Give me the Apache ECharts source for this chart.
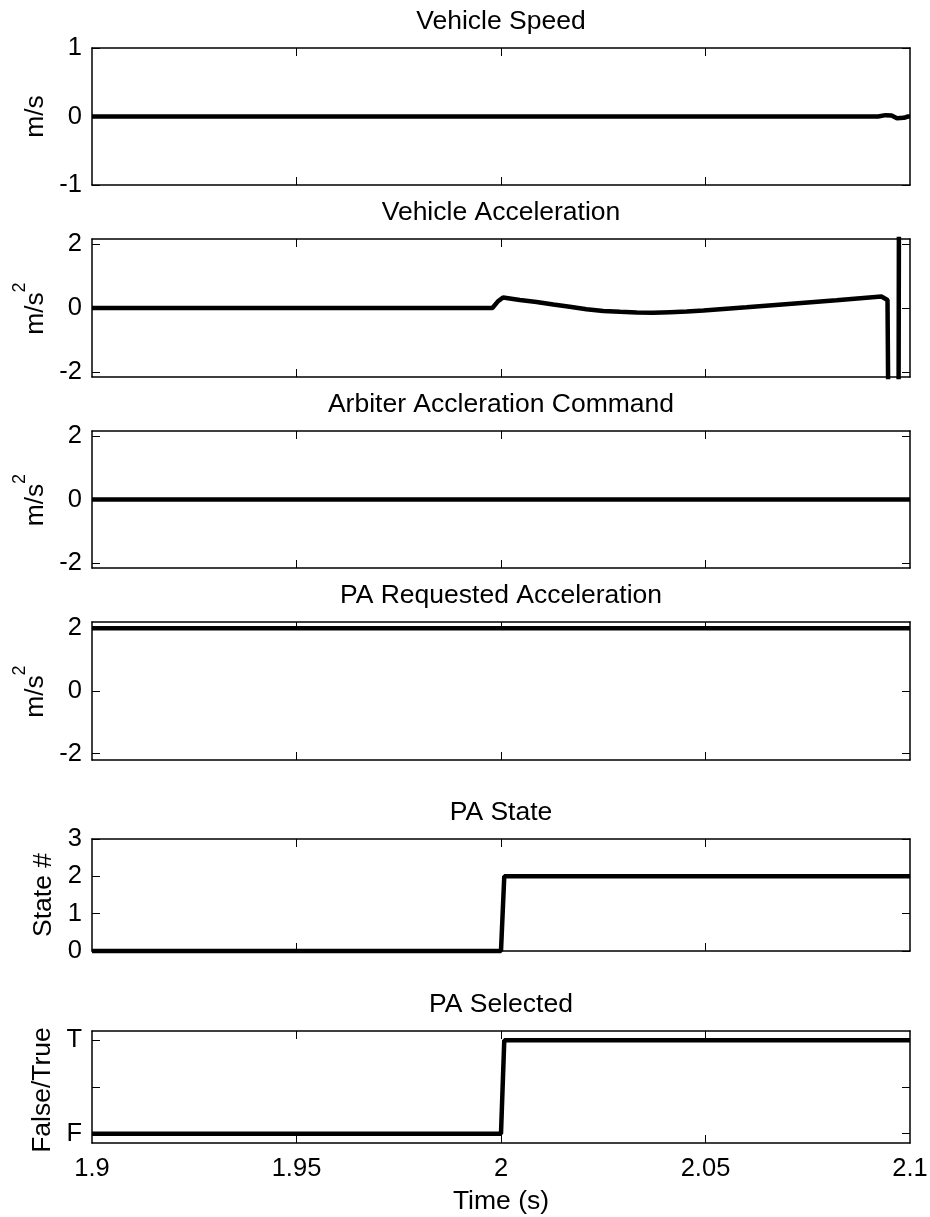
<!DOCTYPE html>
<html>
<head>
<meta charset="utf-8">
<script src="https://cdn.jsdelivr.net/npm/echarts@6/dist/echarts.min.js"></script>
<style>
html,body{margin:0;padding:0;background:#fff;}
#chart{width:930px;height:1217px;}
</style>
</head>
<body>
<div id="chart"></div>
<script>
// time axis
var timeMin = 1.9;
var timeMax = 2.1;
var timeTicks = [1.95, 2, 2.05];
var timeLabels = [1.9, 1.95, 2, 2.05, 2.1];

// panel titles / y labels
var titles = ['Vehicle Speed', 'Vehicle Acceleration', 'Arbiter Accleration Command', 'PA Requested Acceleration', 'PA State', 'PA Selected'];
var yUnits = ['m/s', 'm/s', 'm/s', 'm/s', 'State #', 'False/True'];
var yUnitSup = ['', '2', '2', '2', '', ''];

// y ranges and ticks
var yMins = [-1, -2.15, -2.15, -2.2, 0, -0.1];
var yMaxs = [1, 2.15, 2.15, 2.2, 3, 1.1];
var yTicks = [[-1, 0, 1], [-2, 0, 2], [-2, 0, 2], [-2, 0, 2], [0, 1, 2, 3], [0, 0.5, 1]];
var yLabels = [[-1, 0, 1], [-2, 0, 2], [-2, 0, 2], [-2, 0, 2], [0, 1, 2, 3], [0, 1]];

// series values
var speedT = [1.9, 2.0922, 2.094, 2.0955, 2.0968, 2.0985, 2.0995, 2.1];
var speedV = [0, 0, 0.02, 0.015, -0.025, -0.02, 0, 0];

var accelT = [1.9, 1.9979, 1.9992, 2.0005, 2.0046, 2.0087, 2.0128, 2.0168, 2.0209, 2.025, 2.0291, 2.0332, 2.0372, 2.0413, 2.0454, 2.0495, 2.06, 2.0711, 2.082, 2.093, 2.0945, 2.0951, 2.0971, 2.0974];
var accelV = [0, 0, 0.2, 0.33, 0.25, 0.19, 0.11, 0.04, -0.04, -0.09, -0.12, -0.14, -0.15, -0.13, -0.11, -0.08, 0.02, 0.13, 0.24, 0.36, 0.25, -10, -10, 10];

var arbT = [1.9, 2.1];
var arbV = [0, 0];

var reqT = [1.9, 2.1];
var reqV = [2, 2];

var stateT = [1.9, 2.0, 2.0008, 2.1];
var stateV = [0, 0, 2, 2];

var selT = [1.9, 2.0, 2.0008, 2.1];
var selV = [0, 0, 1, 1];

var seriesT = [speedT, accelT, arbT, reqT, stateT, selT];
var seriesV = [speedV, accelV, arbV, reqV, stateV, selV];

var gridTops = [48, 239, 431, 622, 839, 1031];
var gridHeights = [137, 138, 137, 138, 112, 112];
var unitX = [49, 49, 49, 49, 57, 56];
var unitShift = [0, 5.5, 5.5, 5.5, 0, 3];

var FONT = '"Liberation Sans", Arial, sans-serif';

function fmtNum(v) {
	return String(+(+v).toFixed(2));
}

var dom = document.getElementById('chart');
var myChart = echarts.init(dom, null, {renderer: 'canvas'});

var grid = [], xAxis = [], yAxis = [], series = [], title = [], graphic = [];
for (var i = 0; i < 6; i++) {
	var last = (i == 5);
	var midY = gridTops[i] + gridHeights[i] / 2;
	grid.push({left: 92, right: 20, top: gridTops[i], height: gridHeights[i], containLabel: false, outerBoundsMode: 'none'});

	title.push({
		text: titles[i], left: 501, top: gridTops[i] - 40, textAlign: 'center', padding: 0,
		textStyle: {fontSize: 26.5, fontWeight: 'normal', color: '#000', fontFamily: FONT}
	});

	// y label (rotated), with optional superscript
	graphic.push({
		type: 'text', x: unitX[i], y: midY + unitShift[i], rotation: Math.PI / 2, silent: true,
		style: {text: yUnits[i], fontSize: 26.5, fontFamily: FONT, fill: '#000', align: 'center', verticalAlign: 'bottom'}
	});
	if (yUnitSup[i]) {
		graphic.push({
			type: 'text', x: 29, y: midY - 20.5, rotation: Math.PI / 2, silent: true,
			style: {text: yUnitSup[i], fontSize: 18, fontFamily: FONT, fill: '#000', align: 'center', verticalAlign: 'bottom'}
		});
	}

	// bottom x axis
	xAxis.push({
		type: 'value', gridIndex: i, min: timeMin, max: timeMax, position: 'bottom',
		axisLine: {show: true, onZero: false, lineStyle: {color: '#000', width: 1.5}},
		axisTick: {show: true, inside: true, length: 8, lineStyle: {color: '#000', width: 1}, customValues: timeTicks},
		axisLabel: {show: last, margin: 13, fontSize: 25.5, color: '#000', fontFamily: FONT, customValues: timeLabels, formatter: fmtNum},
		splitLine: {show: false},
		name: last ? 'Time (s)' : '', nameLocation: 'middle', nameGap: 45,
		nameTextStyle: {fontSize: 26.5, color: '#000', fontFamily: FONT}
	});
	// top x axis (box + ticks)
	xAxis.push({
		type: 'value', gridIndex: i, min: timeMin, max: timeMax, position: 'top',
		axisLine: {show: true, onZero: false, lineStyle: {color: '#000', width: 1.5}},
		axisTick: {show: true, inside: true, length: 8, lineStyle: {color: '#000', width: 1}, customValues: timeTicks},
		axisLabel: {show: false},
		splitLine: {show: false}
	});

	var labFmt = fmtNum;
	if (i == 5) {
		labFmt = function (v) { return v == 0 ? 'F' : (v == 1 ? 'T' : ''); };
	}
	yAxis.push({
		type: 'value', gridIndex: i, min: yMins[i], max: yMaxs[i], position: 'left',
		axisLine: {show: true, onZero: false, lineStyle: {color: '#000', width: 1.5}},
		axisTick: {show: true, inside: true, length: 8, lineStyle: {color: '#000', width: 1}, customValues: yTicks[i]},
		axisLabel: {show: true, margin: 10, fontSize: 25.5, color: '#000', fontFamily: FONT, customValues: yLabels[i], formatter: labFmt},
		splitLine: {show: false}
	});
	yAxis.push({
		type: 'value', gridIndex: i, min: yMins[i], max: yMaxs[i], position: 'right',
		axisLine: {show: true, onZero: false, lineStyle: {color: '#000', width: 1.5}},
		axisTick: {show: true, inside: true, length: 8, lineStyle: {color: '#000', width: 1}, customValues: yTicks[i]},
		axisLabel: {show: false},
		splitLine: {show: false}
	});

	var pts = [];
	for (var k = 0; k < seriesT[i].length; k++) {
		pts.push([seriesT[i][k], seriesV[i][k]]);
	}
	series.push({
		type: 'line', xAxisIndex: 2 * i, yAxisIndex: 2 * i, data: pts,
		showSymbol: false, symbol: 'none', clip: (i == 1),
		lineStyle: {color: '#000', width: 4.5}, silent: true
	});
}

var option = {
	animation: false,
	backgroundColor: '#fff',
	title: title,
	grid: grid,
	xAxis: xAxis,
	yAxis: yAxis,
	series: series,
	graphic: graphic
};
myChart.setOption(option);
</script>
</body>
</html>
